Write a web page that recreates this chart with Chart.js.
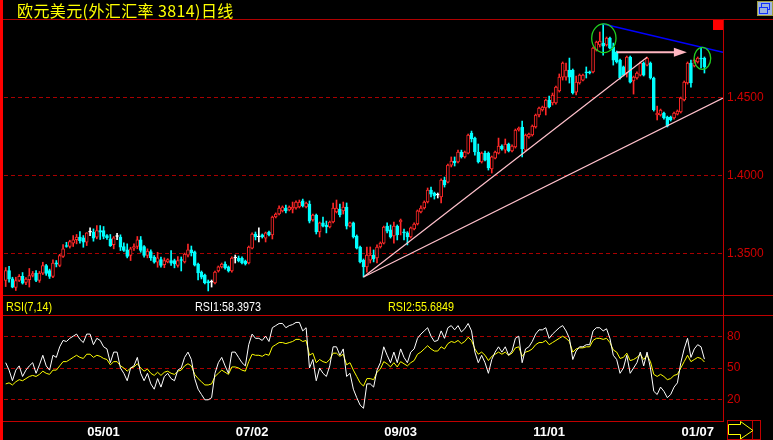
<!DOCTYPE html>
<html><head><meta charset="utf-8">
<script src="https://cdn.jsdelivr.net/npm/chart.js@4/dist/chart.umd.min.js"></script>
<style>
html,body{margin:0;padding:0;background:#000;}
#wrap{position:relative;width:773px;height:440px;overflow:hidden;background:#000;}
canvas{position:absolute;left:0;}
.ln{position:absolute;}
.t{position:absolute;white-space:nowrap;line-height:1;}
.nar{font-family:'Liberation Sans',Arial,sans-serif;font-size:13px;transform:scaleX(0.83);transform-origin:0 0;}
</style>
</head><body>
<div id="wrap">
<canvas id="pc" width="773" height="307" style="top:0"></canvas>
<canvas id="rc" width="773" height="144" style="top:296px"></canvas>
<div class="ln" style="left:0;top:0;width:3px;height:440px;background:#ff0000"></div>
<div class="ln" style="left:3px;top:19px;width:770px;height:1px;background:#b00000"></div>
<div class="ln" style="left:723px;top:19px;width:1px;height:403px;background:#c00000"></div>
<div class="ln" style="left:3px;top:295px;width:770px;height:1px;background:#c00000"></div>
<div class="ln" style="left:3px;top:315px;width:770px;height:1px;background:#c00000"></div>
<div class="ln" style="left:3px;top:421px;width:721px;height:1px;background:#c00000"></div>
<div class="ln" style="left:713px;top:20px;width:10px;height:10px;background:#ff0000"></div>
<div class="ln" style="left:757px;top:1px;width:14px;height:13px;border:1px solid #a0a040;background:#9db4e0"></div>
<div class="ln" style="left:761px;top:3px;width:7px;height:5px;border:1px solid #1030ff"></div>
<div class="ln" style="left:759px;top:7px;width:7px;height:5px;border:1px solid #1030ff;background:#9db4e0"></div>
<div class="t" id="title" style="left:17px;top:2px;color:#ffff00;font-family:'Noto Sans CJK SC';font-size:16px;letter-spacing:0.4px">欧元美元(外汇汇率 3814)日线</div>
<div class="t nar" id="h0" style="left:6px;top:300px;color:#ffff00"></div>
<div class="t nar" id="h1" style="left:195px;top:300px;color:#ffffff"></div>
<div class="t nar" id="h2" style="left:388px;top:300px;color:#ffff00"></div>
<svg style="position:absolute;left:727px;top:420px" width="34" height="20">
<rect x="0.5" y="0.5" width="33" height="19" fill="none" stroke="#c00000"/>
<line x1="25.5" y1="0" x2="25.5" y2="20" stroke="#c00000"/>
<polygon points="1.5,4.5 13.5,4.5 13.5,1.5 26,10.5 13.5,19 13.5,14.5 1.5,14.5" fill="none" stroke="#ffff00"/>
</svg>
</div>
<script>
// ---- data (EUR/USD daily) ----
const open = [
1.3327,1.3391,1.3337,1.3282,1.3327,1.3353,1.3314,1.3333,1.3359,1.3374,
1.3327,1.3374,1.3423,1.3391,1.3353,1.3440,1.3423,1.3481,1.3550,1.3545,
1.3567,1.3588,1.3605,1.3601,1.3573,1.3637,1.3637,1.3605,1.3647,1.3647,
1.3615,1.3594,1.3556,1.3609,1.3605,1.3545,1.3524,1.3487,1.3535,1.3545,
1.3588,1.3545,1.3487,1.3513,1.3477,1.3444,1.3461,1.3429,1.3446,1.3455,
1.3455,1.3423,1.3460,1.3446,1.3490,1.3523,1.3510,1.3433,1.3381,1.3362,
1.3320,1.3317,1.3311,1.3388,1.3414,1.3433,1.3414,1.3388,1.3471,1.3471,
1.3471,1.3452,1.3439,1.3535,1.3625,1.3606,1.3619,1.3599,1.3638,1.3619,
1.3734,1.3753,1.3773,1.3792,1.3779,1.3785,1.3792,1.3798,1.3837,1.3798,
1.3817,1.3715,1.3747,1.3638,1.3696,1.3683,1.3670,1.3702,1.3766,1.3785,
1.3773,1.3798,1.3676,1.3696,1.3612,1.3542,1.3458,1.3414,1.3458,1.3490,
1.3471,1.3542,1.3567,1.3676,1.3651,1.3612,1.3676,1.3702,1.3638,1.3632,
1.3606,1.3657,1.3689,1.3766,1.3792,1.3830,1.3907,1.3888,1.3875,1.3862,
1.3971,1.3958,1.4067,1.4093,1.4087,1.4151,1.4119,1.4144,1.4272,1.4240,
1.4151,1.4087,1.4144,1.4144,1.4042,1.4112,1.4144,1.4189,1.4163,1.4202,
1.4157,1.4183,1.4292,1.4311,1.4163,1.4247,1.4260,1.4311,1.4388,1.4420,
1.4433,1.4484,1.4465,1.4465,1.4542,1.4631,1.4631,1.4676,1.4676,1.4535,
1.4593,1.4612,1.4664,1.4664,1.4664,1.4805,1.4837,1.4849,1.4837,1.4881,
1.4824,1.4792,1.4740,1.4696,1.4657,1.4760,1.4606,1.4625,1.4644,1.4721,
1.4708,1.4721,1.4625,1.4388,1.4388,1.4401,1.4375,1.4375,1.4369,1.4394,
1.4407,1.4484,1.4593,1.4721,1.4702,1.4728,1.4753,1.4753];
const high = [
1.3410,1.3417,1.3348,1.3348,1.3365,1.3378,1.3345,1.3404,1.3385,1.3390,
1.3385,1.3444,1.3430,1.3400,1.3460,1.3455,1.3495,1.3558,1.3572,1.3585,
1.3615,1.3622,1.3641,1.3615,1.3633,1.3665,1.3658,1.3679,1.3679,1.3673,
1.3622,1.3622,1.3609,1.3630,1.3620,1.3569,1.3562,1.3540,1.3562,1.3609,
1.3609,1.3551,1.3530,1.3524,1.3487,1.3508,1.3477,1.3472,1.3467,1.3519,
1.3464,1.3480,1.3478,1.3503,1.3561,1.3548,1.3516,1.3439,1.3388,1.3368,
1.3330,1.3330,1.3388,1.3420,1.3439,1.3446,1.3420,1.3478,1.3490,1.3484,
1.3478,1.3458,1.3548,1.3632,1.3638,1.3664,1.3625,1.3638,1.3644,1.3740,
1.3760,1.3805,1.3805,1.3811,1.3805,1.3830,1.3837,1.3843,1.3849,1.3830,
1.3837,1.3753,1.3753,1.3702,1.3734,1.3708,1.3708,1.3824,1.3843,1.3817,
1.3830,1.3824,1.3702,1.3702,1.3619,1.3548,1.3465,1.3542,1.3542,1.3523,
1.3555,1.3574,1.3676,1.3696,1.3683,1.3702,1.3683,1.3721,1.3657,1.3640,
1.3670,1.3696,1.3779,1.3805,1.3837,1.3920,1.3926,1.3894,1.3888,1.3978,
1.3990,1.4074,1.4119,1.4119,1.4163,1.4163,1.4157,1.4266,1.4285,1.4247,
1.4202,1.4151,1.4157,1.4151,1.4125,1.4157,1.4240,1.4196,1.4234,1.4208,
1.4196,1.4298,1.4311,1.4349,1.4266,1.4272,1.4324,1.4394,1.4439,1.4445,
1.4490,1.4510,1.4529,1.4574,1.4651,1.4728,1.4721,1.4753,1.4683,1.4638,
1.4651,1.4651,1.4696,1.4670,1.4824,1.4862,1.4920,1.4971,1.4888,1.4888,
1.4849,1.4798,1.4747,1.4702,1.4766,1.4766,1.4638,1.4664,1.4728,1.4728,
1.4760,1.4728,1.4631,1.4445,1.4426,1.4407,1.4381,1.4381,1.4407,1.4420,
1.4503,1.4606,1.4728,1.4740,1.4747,1.4760,1.4817,1.4760];
const low = [
1.3288,1.3317,1.3280,1.3263,1.3320,1.3304,1.3300,1.3285,1.3350,1.3320,
1.3315,1.3365,1.3360,1.3340,1.3345,1.3414,1.3415,1.3475,1.3540,1.3535,
1.3545,1.3562,1.3567,1.3540,1.3551,1.3615,1.3579,1.3594,1.3590,1.3594,
1.3590,1.3545,1.3530,1.3588,1.3519,1.3513,1.3472,1.3455,1.3519,1.3530,
1.3508,1.3476,1.3472,1.3455,1.3438,1.3412,1.3412,1.3409,1.3440,1.3423,
1.3408,1.3412,1.3388,1.3439,1.3478,1.3484,1.3420,1.3330,1.3337,1.3305,
1.3260,1.3285,1.3305,1.3381,1.3407,1.3400,1.3381,1.3381,1.3439,1.3446,
1.3433,1.3426,1.3433,1.3529,1.3587,1.3574,1.3599,1.3574,1.3612,1.3593,
1.3728,1.3747,1.3766,1.3760,1.3773,1.3760,1.3785,1.3792,1.3798,1.3792,
1.3696,1.3708,1.3625,1.3606,1.3670,1.3632,1.3664,1.3696,1.3760,1.3734,
1.3753,1.3657,1.3670,1.3599,1.3529,1.3439,1.3349,1.3381,1.3439,1.3446,
1.3439,1.3535,1.3561,1.3632,1.3599,1.3567,1.3587,1.3619,1.3587,1.3555,
1.3599,1.3651,1.3683,1.3760,1.3785,1.3824,1.3862,1.3849,1.3856,1.3824,
1.3926,1.3952,1.4055,1.4061,1.4080,1.4112,1.4112,1.4138,1.4215,1.4131,
1.4080,1.4080,1.4093,1.4035,1.4016,1.4106,1.4138,1.4163,1.4144,1.4151,
1.4151,1.4176,1.4285,1.4119,1.4157,1.4240,1.4253,1.4304,1.4375,1.4413,
1.4388,1.4433,1.4452,1.4458,1.4535,1.4612,1.4612,1.4593,1.4522,1.4516,
1.4586,1.4606,1.4625,1.4651,1.4657,1.4798,1.4824,1.4772,1.4830,1.4811,
1.4708,1.4721,1.4618,1.4638,1.4631,1.4593,1.4522,1.4618,1.4638,1.4638,
1.4702,1.4618,1.4413,1.4356,1.4381,1.4362,1.4311,1.4349,1.4362,1.4388,
1.4401,1.4478,1.4586,1.4566,1.4696,1.4721,1.4689,1.4657];
const close = [
1.3391,1.3337,1.3284,1.3327,1.3353,1.3310,1.3336,1.3359,1.3372,1.3327,
1.3374,1.3423,1.3372,1.3353,1.3438,1.3432,1.3487,1.3530,1.3545,1.3577,
1.3588,1.3605,1.3583,1.3573,1.3633,1.3637,1.3598,1.3647,1.3637,1.3609,
1.3601,1.3551,1.3601,1.3609,1.3540,1.3519,1.3481,1.3530,1.3545,1.3588,
1.3519,1.3487,1.3515,1.3472,1.3444,1.3472,1.3423,1.3455,1.3461,1.3438,
1.3434,1.3455,1.3455,1.3497,1.3523,1.3503,1.3426,1.3375,1.3349,1.3311,
1.3311,1.3317,1.3381,1.3414,1.3433,1.3407,1.3388,1.3471,1.3471,1.3452,
1.3439,1.3433,1.3542,1.3625,1.3606,1.3606,1.3606,1.3632,1.3619,1.3734,
1.3753,1.3792,1.3798,1.3773,1.3798,1.3798,1.3830,1.3830,1.3805,1.3824,
1.3708,1.3747,1.3638,1.3696,1.3676,1.3670,1.3702,1.3792,1.3792,1.3747,
1.3798,1.3676,1.3696,1.3606,1.3535,1.3446,1.3414,1.3490,1.3490,1.3465,
1.3542,1.3567,1.3670,1.3644,1.3606,1.3676,1.3619,1.3715,1.3632,1.3606,
1.3664,1.3689,1.3773,1.3792,1.3830,1.3907,1.3881,1.3869,1.3875,1.3971,
1.3939,1.4067,1.4093,1.4080,1.4151,1.4119,1.4151,1.4260,1.4234,1.4151,
1.4087,1.4144,1.4099,1.4048,1.4119,1.4151,1.4189,1.4170,1.4202,1.4157,
1.4189,1.4292,1.4304,1.4170,1.4260,1.4266,1.4317,1.4388,1.4433,1.4439,
1.4484,1.4439,1.4516,1.4567,1.4631,1.4721,1.4676,1.4631,1.4529,1.4599,
1.4644,1.4644,1.4657,1.4657,1.4817,1.4856,1.4862,1.4830,1.4881,1.4817,
1.4740,1.4728,1.4625,1.4644,1.4760,1.4599,1.4631,1.4657,1.4721,1.4644,
1.4753,1.4625,1.4420,1.4401,1.4420,1.4369,1.4317,1.4356,1.4401,1.4413,
1.4497,1.4599,1.4721,1.4593,1.4740,1.4753,1.4747,1.4696];
const rsi1 = [
55,48,38,48,52,42,48,52,55,45,53,
62,52,48,62,60,70,
76,75,78,80,82,77,74,82,
82,72,78,76,70,68,55,65,65,
50,45,38,50,52,60,45,38,45,35,30,40,32,42,45,40,38,
48,50,60,65,58,
40,30,25,20,20,22,
45,55,60,52,45,65,65,60,55,52,
72,82,78,78,76,80,75,88,90,92,92,88,90,91,93,93,85,88,
50,58,38,50,45,42,52,
70,70,62,68,
42,45,30,22,15,12,
35,35,32,48,55,70,
62,55,65,55,68,60,55,65,68,
78,82,85,88,
80,75,76,85,78,
88,90,86,90,84,87,92,85,
65,55,62,55,45,
58,65,70,65,70,62,66,78,80,
55,68,70,75,82,86,86,88,
78,82,85,88,90,85,78,58,
66,70,70,72,72,
85,88,88,85,87,78,
62,58,45,50,62,45,
50,55,65,52,65,50,
28,25,32,28,22,25,32,36,
55,68,78,60,68,72,70,58.3973];
const rsi2 = [
35,36,34,37,39,38,40,42,43,42,44,
47,45,44,48,48,52,
56,56,58,60,62,60,59,63,
63,60,62,61,59,58,53,56,56,
52,50,47,50,51,54,50,47,49,45,43,46,43,46,47,45,44,
47,48,52,54,52,
44,40,37,34,34,35,
42,45,48,46,44,51,51,50,48,47,
56,63,62,62,61,63,62,70,72,74,74,73,74,75,77,77,75,76,
62,64,55,58,56,55,58,
64,64,61,63,
53,55,48,42,36,33,
40,40,39,46,49,56,
54,51,55,51,56,54,52,55,57,
63,65,68,71,
68,66,66,70,68,
73,75,74,76,73,75,79,76,
68,63,65,62,57,
61,63,65,63,65,62,64,69,70,
61,65,66,68,72,74,74,76,
72,74,76,78,80,78,75,65,
68,69,69,70,70,
76,78,78,77,78,74,
67,65,59,60,64,57,
58,60,63,58,62,56,
44,42,44,42,39,40,43,44,
50,56,62,56,58,60,59,55.6849];
const priceTicks = [1.35, 1.40, 1.45];
const rsiTicks = [20, 50, 80];
const tickLabels = ['05/01', '07/02', '09/03', '11/01', '01/07'];
const tickAt = [29, 73, 117, 161, 205];
const slots = 213;
// drawn annotations (index, price)
const trendBlue = [[177, 1.4971], [212.5, 1.4790]];
const trendPinkA = [[106, 1.3349], [190, 1.4758]];
const trendPinkB = [[106, 1.3349], [212.5, 1.4497]];
const arrowPink = [[181.0, 1.4790], [201.8, 1.4790]];
const circles = [[177.2, 1.4880, 3.6, 0.0092], [206.4, 1.4751, 2.46, 0.0071]];

// ---- build ----
const SANS = "'Liberation Sans',Arial,sans-serif";
const idx = close.map((_, i) => i);
const col = idx.map(i => close[i] > open[i] ? '#ff2828' : (close[i] < open[i] ? '#00ffff' : '#ffffff'));
const fill = idx.map(i => close[i] > open[i] ? '#000000' : col[i]);
const bodies = idx.map(i => ({x: i, y: [Math.min(open[i], close[i]), Math.max(open[i], close[i])]}));
const wicks = idx.map(i => ({x: i, y: [low[i], high[i]]}));
const toPts = a => a.map(p => ({x: p[0], y: p[1]}));

document.getElementById('h0').textContent = 'RSI(7,14)';
document.getElementById('h1').textContent = 'RSI1:' + rsi1[rsi1.length - 1].toFixed(4);
document.getElementById('h2').textContent = 'RSI2:' + rsi2[rsi2.length - 1].toFixed(4);

const annot = {
  id: 'annot',
  afterDatasetsDraw(chart) {
    const {ctx, scales: {x, y}} = chart;
    ctx.save();
    ctx.strokeStyle = '#20d020';
    ctx.lineWidth = 1.3;
    circles.forEach(c => {
      const cx = x.getPixelForValue(c[0]), cy = y.getPixelForValue(c[1]);
      const rx = Math.abs(x.getPixelForValue(c[0] + c[2]) - cx);
      const ry = Math.abs(y.getPixelForValue(c[1] + c[3]) - cy);
      ctx.beginPath(); ctx.ellipse(cx, cy, rx, ry, 0, 0, Math.PI * 2); ctx.stroke();
    });
    const tx = x.getPixelForValue(arrowPink[1][0]), ty = y.getPixelForValue(arrowPink[1][1]);
    ctx.fillStyle = '#ffb6c1';
    ctx.beginPath(); ctx.moveTo(tx, ty); ctx.lineTo(tx - 13, ty - 4.5); ctx.lineTo(tx - 13, ty + 4.5); ctx.closePath(); ctx.fill();
    ctx.restore();
  }
};

const lineDs = (pts, color, w) => ({type: 'line', data: toPts(pts), borderColor: color, borderWidth: w, pointRadius: 0, fill: false, order: -1});
const arrowShaft = [arrowPink[0], [arrowPink[1][0] - 3.5, arrowPink[1][1]]];

new Chart(document.getElementById('pc'), {
  type: 'bar',
  data: {datasets: [
    lineDs(trendBlue, '#0000ff', 1.5),
    lineDs(trendPinkA, '#ffc0cb', 1.2),
    lineDs(trendPinkB, '#ffc0cb', 1.2),
    lineDs(arrowShaft, '#ffb6c1', 2),
    {data: bodies, backgroundColor: fill, borderColor: col, borderWidth: 1, borderSkipped: false, barThickness: 3, grouped: false, minBarLength: 1, order: 0},
    {data: wicks, backgroundColor: col, borderWidth: 0, barThickness: 1, grouped: false, order: 1}
  ]},
  options: {
    responsive: false, animation: false, events: [],
    layout: {padding: {left: 4, top: 20, right: 0, bottom: 12}},
    plugins: {legend: {display: false}, tooltip: {enabled: false}},
    scales: {
      x: {type: 'linear', offset: false, min: -0.5, max: slots - 0.5, display: false},
      y: {
        position: 'right', min: 1.3234, max: 1.4997,
        afterBuildTicks: s => { s.ticks = priceTicks.map(v => ({value: v})); },
        afterFit: s => { s.width = 50; },
        grid: {color: '#a80000', lineWidth: 1, drawTicks: false},
        border: {display: false, dash: [4, 3]},
        ticks: {color: '#d00000', padding: 4, font: {family: SANS, size: 12}, callback: v => v.toFixed(4)}
      }
    }
  },
  plugins: [annot]
});

new Chart(document.getElementById('rc'), {
  type: 'line',
  data: {datasets: [
    {data: idx.map(i => ({x: i, y: rsi2[i]})), borderColor: '#ffff00', borderWidth: 1, pointRadius: 0, order: 1},
    {data: idx.map(i => ({x: i, y: rsi1[i]})), borderColor: '#ffffff', borderWidth: 1, pointRadius: 0, order: 0}
  ]},
  options: {
    responsive: false, animation: false, events: [],
    layout: {padding: {left: 4, top: 19, right: 0, bottom: 0}},
    plugins: {legend: {display: false}, tooltip: {enabled: false}},
    scales: {
      x: {
        type: 'linear', offset: false, min: -0.5, max: slots - 0.5,
        afterBuildTicks: s => { s.ticks = tickAt.map(v => ({value: v})); },
        afterFit: s => { s.height = 19; },
        grid: {display: false, drawTicks: false},
        border: {display: false},
        ticks: {color: '#ffffff', padding: 4, maxRotation: 0, autoSkip: false, font: {family: SANS, size: 13, weight: 'bold'}, callback: (v, i) => tickLabels[i]}
      },
      y: {
        position: 'right', min: 0, max: 100,
        afterBuildTicks: s => { s.ticks = rsiTicks.map(v => ({value: v})); },
        afterFit: s => { s.width = 50; },
        grid: {color: '#a80000', lineWidth: 1, drawTicks: false},
        border: {display: false, dash: [4, 3]},
        ticks: {color: '#d00000', padding: 4, font: {family: SANS, size: 12}}
      }
    }
  }
});
</script>
</body></html>
